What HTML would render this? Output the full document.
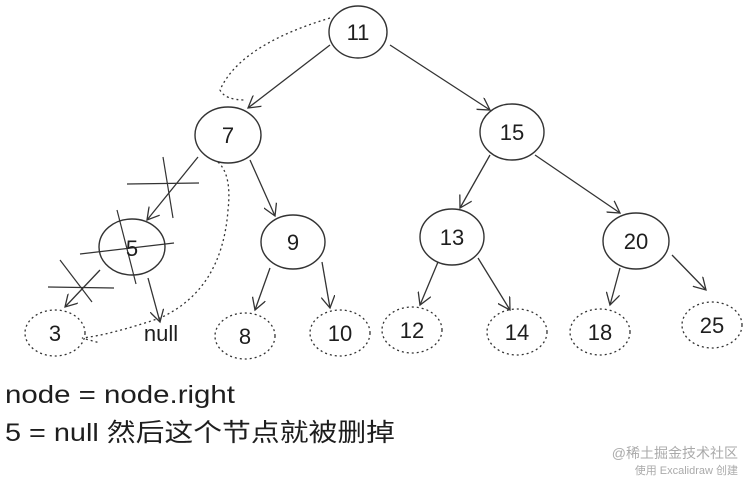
<!DOCTYPE html>
<html><head><meta charset="utf-8"><style>
body{margin:0;background:#fff;width:746px;height:478px;overflow:hidden}
svg text{font-family:"Liberation Sans","Noto Sans CJK SC",sans-serif;fill:#1e1e1e}
</style></head><body>
<svg width="746" height="478" viewBox="0 0 746 478">
<defs><marker id="a" markerWidth="14" markerHeight="14" refX="12" refY="7" orient="auto" markerUnits="userSpaceOnUse"><path d="M0,0 L12,7 L0,14" fill="none" stroke="#333" stroke-width="1.3"/></marker></defs>
<g fill="none" stroke="#333" stroke-width="1.4">
<ellipse cx="358" cy="32" rx="29" ry="26"/>
<ellipse cx="228" cy="135" rx="33" ry="28"/>
<ellipse cx="512" cy="132" rx="32" ry="28"/>
<ellipse cx="132" cy="247" rx="33" ry="28"/>
<ellipse cx="293" cy="242" rx="32" ry="27"/>
<ellipse cx="452" cy="237" rx="32" ry="28"/>
<ellipse cx="636" cy="241" rx="33" ry="28"/>
</g>
<g fill="none" stroke="#333" stroke-width="1.3" stroke-dasharray="2,3">
<ellipse cx="55" cy="333" rx="30" ry="23"/>
<ellipse cx="245" cy="336" rx="30" ry="23"/>
<ellipse cx="340" cy="333" rx="30" ry="23"/>
<ellipse cx="412" cy="330" rx="30" ry="23"/>
<ellipse cx="517" cy="332" rx="30" ry="23"/>
<ellipse cx="600" cy="332" rx="30" ry="23"/>
<ellipse cx="712" cy="325" rx="30" ry="23"/>
<path d="M330,18 Q240,45 220,90 Q225,100 245,100"/>
<path d="M218,162 Q232,175 228,210 Q222,290 160,318 Q110,335 82,338 L100,343"/>
</g>
<g stroke="#333" stroke-width="1.3" marker-end="url(#a)">
<line x1="330" y1="45" x2="248" y2="108"/>
<line x1="390" y1="45" x2="490" y2="110"/>
<line x1="198" y1="157" x2="147" y2="220"/>
<line x1="250" y1="160" x2="275" y2="216"/>
<line x1="490" y1="155" x2="460" y2="208"/>
<line x1="535" y1="155" x2="620" y2="213"/>
<line x1="100" y1="270" x2="65" y2="307"/>
<line x1="148" y1="278" x2="160" y2="322"/>
<line x1="270" y1="268" x2="255" y2="310"/>
<line x1="322" y1="262" x2="330" y2="308"/>
<line x1="438" y1="262" x2="420" y2="305"/>
<line x1="478" y1="258" x2="510" y2="310"/>
<line x1="620" y1="268" x2="610" y2="305"/>
<line x1="672" y1="255" x2="706" y2="290"/>
</g>
<g stroke="#333" stroke-width="1.2">
<line x1="127" y1="184" x2="199" y2="183"/><line x1="163" y1="157" x2="173" y2="218"/>
<line x1="80" y1="254" x2="174" y2="243"/><line x1="117" y1="210" x2="136" y2="284"/>
<line x1="48" y1="287" x2="114" y2="288"/><line x1="60" y1="260" x2="92" y2="302"/>
</g>
<g font-size="22" text-anchor="middle">
<text x="358" y="40">11</text><text x="228" y="143">7</text><text x="512" y="140">15</text>
<text x="132" y="256">5</text><text x="293" y="250">9</text><text x="452" y="245">13</text><text x="636" y="249">20</text>
<text x="55" y="341">3</text><text x="161" y="341">null</text><text x="245" y="344">8</text><text x="340" y="341">10</text>
<text x="412" y="338">12</text><text x="517" y="340">14</text><text x="600" y="340">18</text><text x="712" y="333">25</text>
</g>
<text x="5" y="403" font-size="25" textLength="230" lengthAdjust="spacingAndGlyphs">node = node.right</text>
<text x="5" y="441" font-size="25" textLength="390" lengthAdjust="spacingAndGlyphs">5 = null 然后这个节点就被删掉</text>
<text x="738" y="458" font-size="14" text-anchor="end" style="fill:#aaa">@稀土掘金技术社区</text>
<text x="738" y="474" font-size="11" text-anchor="end" style="fill:#aaa">使用 Excalidraw 创建</text>
</svg>
</body></html>
